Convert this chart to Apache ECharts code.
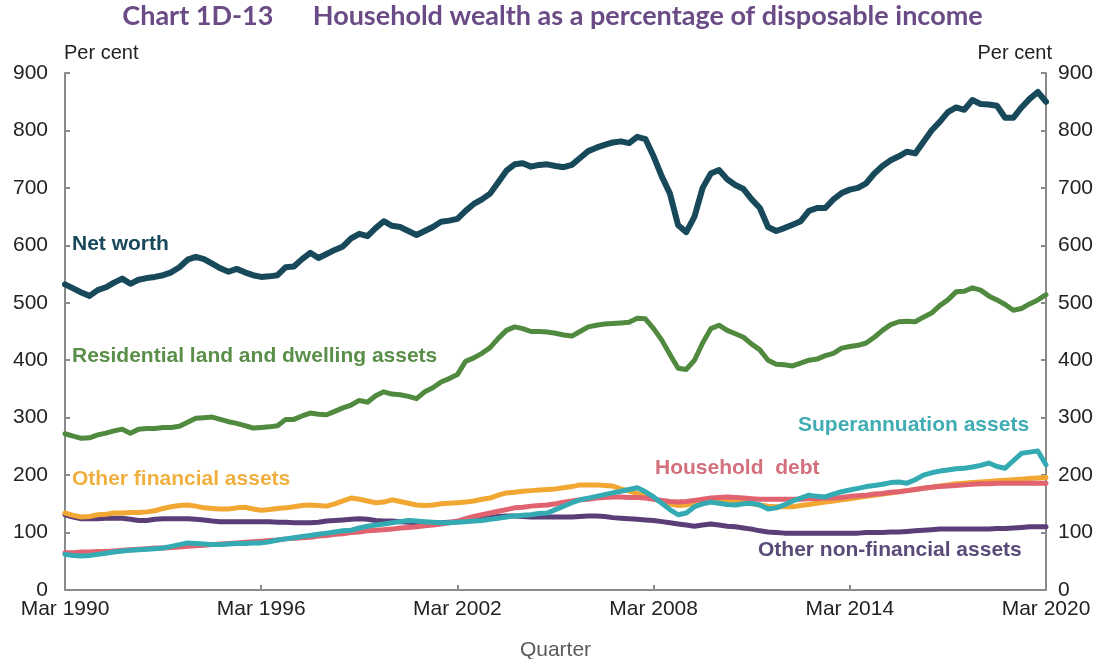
<!DOCTYPE html>
<html><head><meta charset="utf-8">
<script src="https://cdn.jsdelivr.net/npm/echarts@6/dist/echarts.min.js"></script>
<style>html,body{margin:0;padding:0;background:#fff}#c{width:1105px;height:659px}</style>
</head><body><div id="c"></div>
<script>
const startYear = 1990;
const quarterNames = ['Mar','Jun','Sep','Dec'];
const categories = [];
for (let i = 0; i <= 120; i++) categories.push(quarterNames[i % 4] + ' ' + (startYear + Math.floor(i / 4)));

const netWorth = [532,525,518,512,522,527,535,542,533,540,543,545,548,553,562,575,580,576,568,560,554,559,553,548,545,546,548,562,563,576,587,578,585,592,598,612,620,616,630,642,634,632,625,618,625,632,641,643,646,660,672,680,690,710,730,741,743,737,740,741,738,736,740,752,764,770,775,779,781,778,789,785,755,720,690,635,623,650,700,725,731,715,705,698,680,665,632,625,630,636,642,660,665,665,680,691,697,700,708,725,738,748,755,763,760,780,800,815,832,840,836,853,846,845,843,822,822,840,855,867,850];
const residential = [272,268,264,265,270,273,277,280,273,280,281,281,283,283,285,292,299,300,301,297,293,290,286,282,283,284,286,297,297,303,308,306,305,311,317,322,330,327,338,345,341,340,337,333,345,352,362,368,375,398,404,412,422,438,452,458,455,450,450,449,447,444,442,450,458,461,463,464,465,466,473,472,455,435,410,386,384,400,430,455,461,452,446,440,428,418,400,393,392,390,395,400,402,408,412,421,424,426,430,440,452,462,467,468,467,475,482,495,505,519,520,526,522,512,505,497,487,490,498,505,514];
const otherFinancial = [134,130,127,128,131,132,134,134,135,135,136,138,142,145,147,148,146,143,142,141,141,143,144,141,139,140,142,143,145,147,148,147,146,150,155,160,158,155,152,153,157,154,151,148,147,148,150,151,152,153,155,158,160,165,169,170,172,173,174,175,176,178,180,183,183,183,182,181,176,172,168,163,158,155,150,147,148,152,155,156,157,156,154,153,150,148,146,145,145,145,147,149,151,153,155,157,159,161,163,165,167,169,171,173,175,177,179,181,183,185,186,187,188,189,190,191,192,193,194,195,196];
const householdDebt = [65,65,66,66,67,67,68,69,70,71,72,73,73,74,75,76,77,78,79,80,81,82,83,84,85,86,87,89,90,91,92,94,95,97,98,100,101,103,104,105,106,108,109,110,112,113,115,117,120,124,128,131,134,137,140,143,144,146,147,148,150,153,155,157,158,160,161,162,162,161,161,160,158,156,154,153,154,156,158,160,161,162,161,160,159,158,158,158,158,158,158,159,159,160,160,161,163,164,165,167,168,170,171,173,175,177,179,180,181,182,183,184,185,185,186,186,186,186,186,186,186];
const superannuation = [62,60,59,60,62,64,66,68,69,70,71,72,73,76,79,82,81,80,79,79,80,81,81,82,82,84,87,89,91,93,95,97,99,101,103,104,108,111,113,115,117,119,121,120,119,118,117,117,118,119,120,121,123,125,127,129,130,131,133,134,140,146,152,157,160,163,166,169,172,175,178,171,162,151,140,131,134,145,150,153,151,149,148,150,151,148,141,143,148,155,160,165,163,162,167,171,174,177,180,182,184,187,188,186,192,200,204,207,209,211,212,214,217,221,215,212,225,238,240,242,218];
const otherNonFinancial = [131,127,124,124,124,125,125,125,123,121,121,123,124,124,124,124,123,122,120,119,119,119,119,119,119,119,118,118,117,117,117,118,120,121,122,123,124,123,121,120,120,119,118,117,117,117,117,118,119,121,123,124,126,128,129,129,128,127,127,127,127,127,127,128,129,129,128,126,125,124,123,122,121,119,117,115,113,111,113,115,113,111,110,108,106,103,101,100,99,99,99,99,99,99,99,99,99,99,100,100,100,101,101,102,103,104,105,106,106,106,106,106,106,106,107,107,108,109,110,110,110];
const yTicks = [0,100,200,300,400,500,600,700,800,900];

const C = {nw:'#17495b', res:'#4f8a3e', of:'#f2a733', hd:'#e0636f', sup:'#34abb3', onf:'#5a3e78'};
const axisColor = '#8a8a8a';
const labelFont = 'Liberation Sans, Arial, sans-serif';

function line(name, data, color, w, z) {
  return {name, type:'line', data, symbol:'none', smooth:false, z,
    lineStyle:{color, width:w, cap:'round', join:'round'}};
}
function yAxis(pos) {
  return {type:'value', position:pos, min:yTicks[0], max:yTicks[yTicks.length-1], interval:100,
    axisLine:{show:true, lineStyle:{color:axisColor, width:2}},
    axisTick:{show:true, inside:true, length:5, lineStyle:{color:axisColor, width:2}},
    axisLabel:{color:'#222', fontSize:21, fontFamily:labelFont, margin:pos==='left'?17:12},
    splitLine:{show:false}};
}
const chart = echarts.init(document.getElementById('c'));
chart.setOption({
  animation:false,
  backgroundColor:'#fff',
  grid:{left:65, right:59, top:73, bottom:69, containLabel:false, outerBoundsMode:'none'},
  xAxis:{type:'category', data:categories, boundaryGap:false,
    axisLine:{lineStyle:{color:axisColor, width:2}},
    axisTick:{inside:true, length:5, interval:23, alignWithLabel:true, lineStyle:{color:axisColor, width:2}},
    axisLabel:{interval:23, color:'#222', fontSize:21, fontFamily:labelFont, margin:9, showMaxLabel:true},
    name:'Quarter', nameLocation:'middle', nameGap:50,
    nameTextStyle:{color:'#5a5a5a', fontSize:21, fontFamily:labelFont}},
  yAxis:[yAxis('left'), yAxis('right')],
  series:[
    line('Other non-financial assets', otherNonFinancial, C.onf, 5, 2),
    line('Other financial assets', otherFinancial, C.of, 5, 3),
    line('Household debt', householdDebt, C.hd, 5, 4),
    line('Superannuation assets', superannuation, C.sup, 5, 5),
    line('Residential land and dwelling assets', residential, C.res, 5, 6),
    line('Net worth', netWorth, C.nw, 6, 7)
  ],
  graphic:[
    {type:'text', left:'center', top:3, style:{text:'Chart 1D-13      Household wealth as a percentage of disposable income', fill:'#6a4b85', font:'bold 27px Lato, "Open Sans", sans-serif'}},
    {type:'text', left:64, top:43, style:{text:'Per cent', fill:'#222', font:'20px '+labelFont}},
    {type:'text', right:53, top:43, style:{text:'Per cent', fill:'#222', font:'20px '+labelFont}},
    {type:'text', left:72, top:234, style:{text:'Net worth', fill:C.nw, font:'bold 21px '+labelFont}},
    {type:'text', left:72, top:346, style:{text:'Residential land and dwelling assets', fill:'#5a8f49', font:'bold 21px '+labelFont}},
    {type:'text', left:72, top:469, style:{text:'Other financial assets', fill:'#f0b040', font:'bold 21px '+labelFont}},
    {type:'text', left:655, top:458, style:{text:'Household  debt', fill:'#d2707c', font:'bold 21px '+labelFont}},
    {type:'text', left:798, top:415, style:{text:'Superannuation assets', fill:'#40acb3', font:'bold 21px '+labelFont}},
    {type:'text', left:758, top:540, style:{text:'Other non-financial assets', fill:'#5a4a78', font:'bold 21px '+labelFont}}
  ]
});
</script></body></html>
